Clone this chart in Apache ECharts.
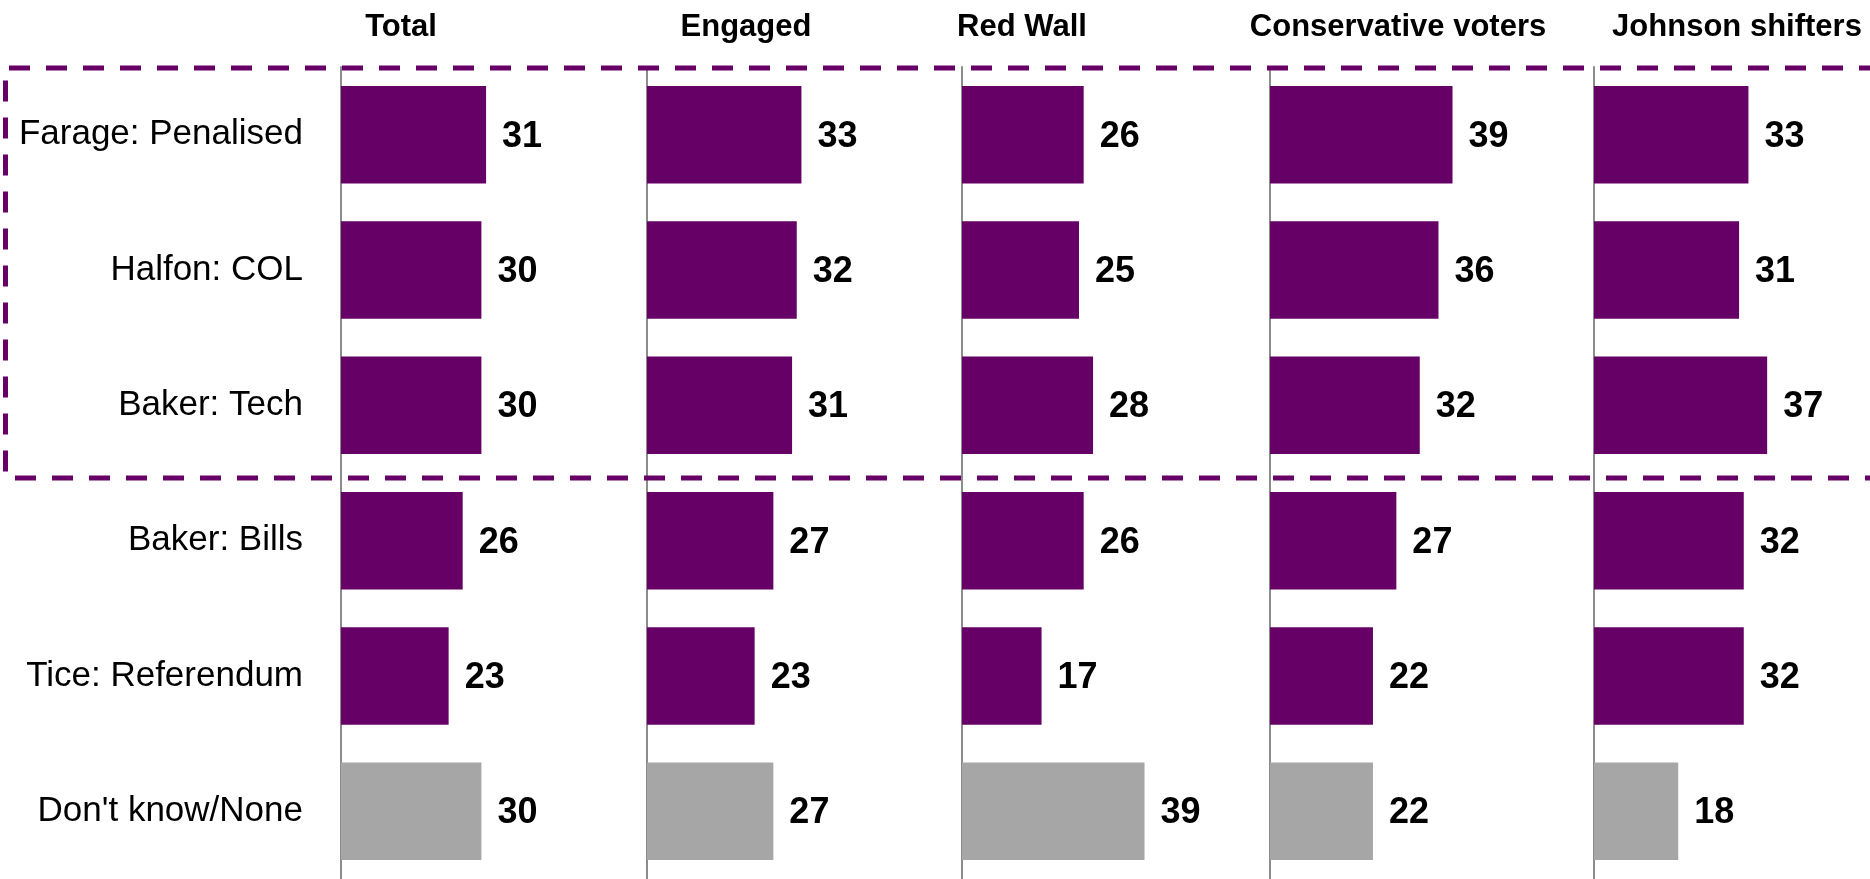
<!DOCTYPE html>
<html>
<head>
<meta charset="utf-8">
<script src="https://cdn.jsdelivr.net/npm/echarts@6/dist/echarts.min.js"></script>
<style>
  html, body { margin: 0; padding: 0; background: #fff; }
  #chart { width: 1870px; height: 879px; }
</style>
</head>
<body>
<div id="chart"></div>
<script>
const categories = ['Farage: Penalised', 'Halfon: COL', 'Baker: Tech', 'Baker: Bills', 'Tice: Referendum', "Don't know/None"];
const groups = ['Total', 'Engaged', 'Red Wall', 'Conservative voters', 'Johnson shifters'];
const totalValues = [31, 30, 30, 26, 23, 30];
const engagedValues = [33, 32, 31, 27, 23, 27];
const redWallValues = [26, 25, 28, 26, 17, 39];
const conservativeValues = [39, 36, 32, 27, 22, 22];
const johnsonValues = [33, 31, 37, 32, 32, 18];
const seriesValues = [totalValues, engagedValues, redWallValues, conservativeValues, johnsonValues];
const neutralCategory = "Don't know/None";

const FONT = "'Liberation Sans', Arial, sans-serif";
const PURPLE = '#660066';
const GREY = '#a6a6a6';
const AXIS_GREY = '#8c8c8c';

const panelLeft = [341, 647, 962, 1270, 1594];
const titleCenter = [401, 746, 1022, 1398, 1737];
const pxPerUnit = 4.68;
const xMax = 50;
const gridTop = 67;
const gridHeight = 816;

const grids = [], xAxes = [], yAxes = [], series = [];
groups.forEach((g, i) => {
  grids.push({ left: panelLeft[i], top: gridTop, width: xMax * pxPerUnit, height: gridHeight, containLabel: false });
  xAxes.push({ type: 'value', gridIndex: i, min: 0, max: xMax, show: false });
  yAxes.push({
    type: 'category', gridIndex: i, data: categories, inverse: true,
    axisLine: { show: true, lineStyle: { color: AXIS_GREY, width: 2 } },
    axisTick: { show: false },
    axisLabel: i === 0 ? { show: true, color: '#000', fontFamily: FONT, fontSize: 35, margin: 38 } : { show: false },
    splitLine: { show: false }
  });
  series.push({
    type: 'bar', name: g, xAxisIndex: i, yAxisIndex: i,
    data: seriesValues[i],
    barCategoryGap: '28%',
    itemStyle: { color: p => categories[p.dataIndex] === neutralCategory ? GREY : PURPLE },
    label: { show: true, position: 'right', distance: 16, color: '#000', fontFamily: FONT, fontSize: 36, fontWeight: 'bold', offset: [0, 2] },
    silent: true, animation: false
  });
});

const graphics = groups.map((g, i) => ({
  type: 'text', x: titleCenter[i], y: 27, z: 10,
  style: { text: g, fill: '#000', font: 'bold 31px ' + FONT, textAlign: 'center', textVerticalAlign: 'middle' }
}));
graphics.push({
  type: 'polyline', z: 20, silent: true,
  shape: { points: [[1880, 68], [5.5, 68], [5.5, 478], [1880, 478]] },
  style: { stroke: PURPLE, lineWidth: 5, fill: null, lineDash: [21, 16] }
});

const chart = echarts.init(document.getElementById('chart'), null, { renderer: 'canvas' });
chart.setOption({
  animation: false,
  backgroundColor: '#fff',
  grid: grids, xAxis: xAxes, yAxis: yAxes, series: series,
  graphic: graphics
});
</script>
</body>
</html>
